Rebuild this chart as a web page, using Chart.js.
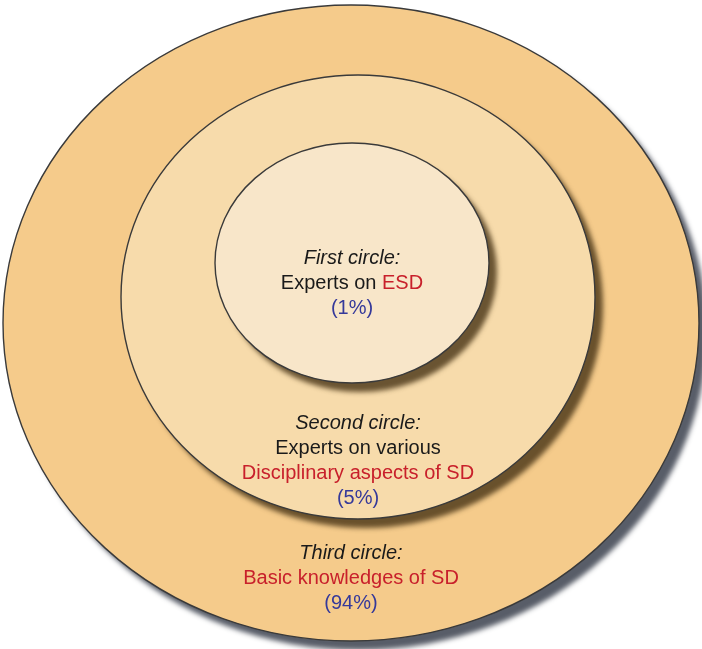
<!DOCTYPE html>
<html>
<head>
<meta charset="utf-8">
<script src="https://cdn.jsdelivr.net/npm/chart.js@4.4.0/dist/chart.umd.min.js"></script>
<style>
  html, body { margin: 0; padding: 0; background: #fff; }
  #wrap { width: 702px; height: 649px; }
</style>
</head>
<body>
<div id="wrap"><canvas id="circles"></canvas></div>
<script>
// --- Data ---
const circleNames = ["First circle:", "Second circle:", "Third circle:"];
const circleShares = [1, 5, 94];
// description lines, each line is a list of [text, tone] pieces
const circleDescs = [
  [[["Experts on ", "plain"], ["ESD", "key"]]],
  [[["Experts on various", "plain"]], [["Disciplinary aspects of SD", "key"]]],
  [[["Basic knowledges of SD", "key"]]],
];

// --- Layout (chart units, same as pixels here) ---
const geom = [
  { cx: 352, cy: 263, rx: 137, ry: 120, textY: 258, fill: "#f8e6c9", shadow: "rgba(70,50,20,0.8)" },
  { cx: 358, cy: 297, rx: 237, ry: 222, textY: 423, fill: "#f7dbab", shadow: "rgba(70,50,20,0.8)" },
  { cx: 351, cy: 323, rx: 348, ry: 318, textY: 553, fill: "#f5cb8b", shadow: "rgba(70,75,88,0.9)" },
];
const tones = { plain: "#1a1a1a", key: "#c8202b", share: "#35399a" };
const FONT = "'Liberation Sans', Arial, sans-serif";

const ellipsePlugin = {
  id: "ellipses",
  beforeDatasetsDraw(chart) {
    const { ctx, scales: { x, y } } = chart;
    // outermost first
    for (let i = geom.length - 1; i >= 0; i--) {
      const g = geom[i];
      const px = x.getPixelForValue(g.cx);
      const py = y.getPixelForValue(g.cy);
      const rx = Math.abs(x.getPixelForValue(g.cx + g.rx) - px);
      const ry = Math.abs(y.getPixelForValue(g.cy + g.ry) - py);
      ctx.save();
      ctx.beginPath();
      ctx.ellipse(px, py, rx, ry, 0, 0, Math.PI * 2);
      ctx.shadowColor = g.shadow;
      ctx.shadowOffsetX = 8;
      ctx.shadowOffsetY = 9;
      ctx.shadowBlur = 5;
      ctx.fillStyle = g.fill;
      ctx.fill();
      ctx.shadowColor = "transparent";
      ctx.lineWidth = 1.4;
      ctx.strokeStyle = "#3a3a3a";
      ctx.stroke();
      ctx.restore();
    }
  },
  afterDatasetsDraw(chart) {
    const { ctx, scales: { x, y } } = chart;
    ctx.save();
    ctx.textBaseline = "middle";
    geom.forEach((g, i) => {
      const cx = x.getPixelForValue(g.cx);
      let ty = y.getPixelForValue(g.textY);
      const lines = [[[circleNames[i], "plain"]], ...circleDescs[i], [["(" + circleShares[i] + "%)", "share"]]];
      lines.forEach((line, li) => {
        const italic = li === 0;
        ctx.font = (italic ? "italic " : "") + "20px " + FONT;
        const w = line.reduce((s, p) => s + ctx.measureText(p[0]).width, 0);
        let sx = cx - w / 2;
        line.forEach(([txt, tone]) => {
          ctx.fillStyle = tones[tone];
          ctx.textAlign = "left";
          ctx.fillText(txt, sx, ty);
          sx += ctx.measureText(txt).width;
        });
        ty += i === 2 && li === 2 ? 23 : 25;
      });
    });
    ctx.restore();
  },
};

new Chart(document.getElementById("circles"), {
  type: "scatter",
  data: {
    datasets: circleNames.map((name, i) => ({
      label: name,
      data: [{ x: geom[i].cx, y: geom[i].cy }],
      pointRadius: 0,
    })),
  },
  options: {
    responsive: true,
    maintainAspectRatio: false,
    animation: false,
    layout: { padding: 0 },
    scales: {
      x: { type: "linear", min: 0, max: 702, display: false },
      y: { type: "linear", min: 0, max: 649, reverse: true, display: false },
    },
    plugins: { legend: { display: false }, tooltip: { enabled: false } },
  },
  plugins: [ellipsePlugin],
});
</script>
</body>
</html>
